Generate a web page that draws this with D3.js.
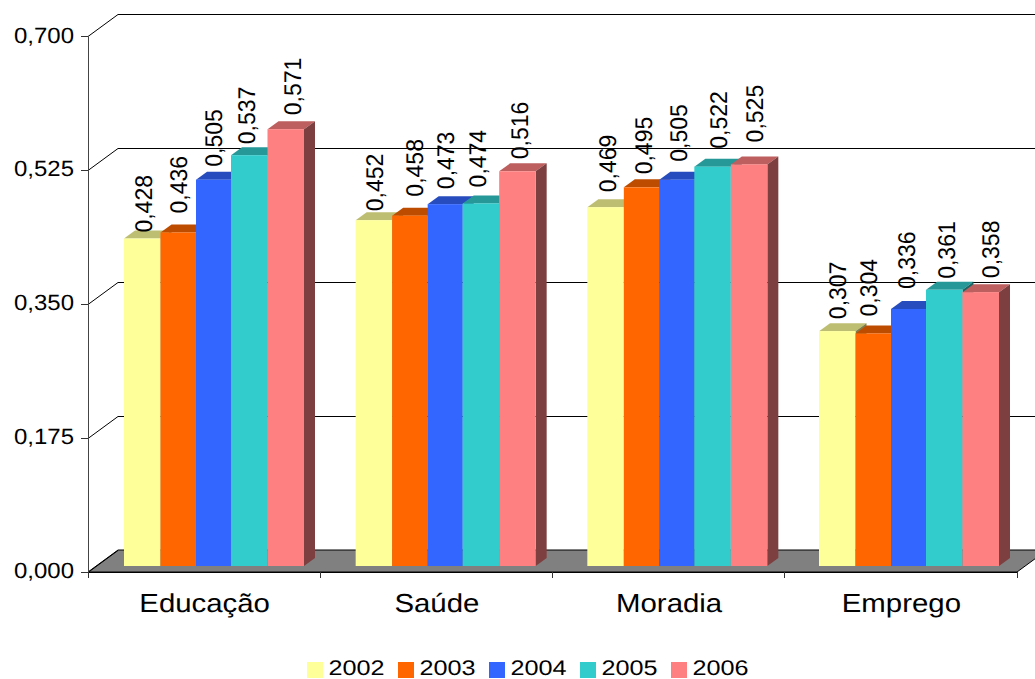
<!DOCTYPE html>
<html lang="pt">
<head>
<meta charset="utf-8">
<script src="https://cdn.jsdelivr.net/npm/d3@7"></script>
<style>
  html, body { margin: 0; padding: 0; background: #fff; overflow: hidden; }
  svg { display: block; font-family: "Liberation Sans", Arial, sans-serif; fill: #000; text-rendering: geometricPrecision; }
</style>
</head>
<body>
<svg id="chart" width="1035" height="679"></svg>
<script>
// Index values per theme and year
const categories = ["Educação", "Saúde", "Moradia", "Emprego"];
const years = ["2002", "2003", "2004", "2005", "2006"];
const values2002 = [0.428, 0.452, 0.469, 0.307];
const values2003 = [0.436, 0.458, 0.495, 0.304];
const values2004 = [0.505, 0.473, 0.505, 0.336];
const values2005 = [0.537, 0.474, 0.522, 0.361];
const values2006 = [0.571, 0.516, 0.525, 0.358];
const yTicks = [0, 0.175, 0.35, 0.525, 0.7];

const seriesValues = [values2002, values2003, values2004, values2005, values2006];
const frontColors = ["#FFFF99", "#FF6600", "#3366FF", "#33CCCC", "#FF8080"];

// Hand placement of the value labels, one row per theme, one column per year:
// sideways shift from the bar's centre and clearance above the bar's top edge
const labelShift = [
  [1.5, 0, -0.5, -3, 7],
  [0.5, 5, 0, -3.5, 2.5],
  [2, 1.5, 2, 6, 5.5],
  [0, -5, -2.5, 2, 9.5]
];
const labelClearance = [
  [7, 20, 14, 12, 15],
  [10, 20, 16, 17, 13],
  [16, 14, 19, 19, 23],
  [13, 18, 21, 12, 15]
];

const svg = d3.select("#chart");
const fmt = v => d3.format(".3f")(v).replace(".", ",");

// Oblique projection: the wall sits behind the axis plane, bars stand in between
const wall = { dx: 30, dy: -22 };
const barDepth = { dx: 11, dy: -8 };
const barLift = -6;

const y = d3.scaleLinear().domain([0, 0.7]).range([572, 36.5]);
const x = d3.scaleBand().domain(categories).range([88, 1017]);
const groupLeft = d3.scalePoint().domain(categories).range([124, 819]);
// Bar edges within a group, in pixels from the group's left side
const barEdge = d3.scaleOrdinal().domain([...years, "end"]).range([0, 36.5, 72, 107, 143.5, 180]);
const edgeAfter = yr => years[years.indexOf(yr) + 1] || "end";

const line = (x1, y1, x2, y2, color = "#000", w = 1) =>
  svg.append("line").attr("x1", x1).attr("y1", y1).attr("x2", x2).attr("y2", y2)
     .attr("stroke", color).attr("stroke-width", w);

// Floor
svg.append("polygon")
  .attr("points", [[88, y(0)], [88 + wall.dx, y(0) + wall.dy],
                   [1017 + wall.dx, y(0) + wall.dy], [1017, y(0)]].join(" "))
  .attr("fill", "#808080").attr("stroke", "#000");

// Wall gridlines and their returns to the value axis
yTicks.forEach(t => {
  const py = Math.floor(y(t)) + 0.5;
  line(88, py, 88 + wall.dx, py + wall.dy);
  if (t > 0) line(88 + wall.dx, py + wall.dy, 1035, py + wall.dy);
  line(81, py, 88, py, "#333");
});

// Value axis
line(88.5, y(0.7), 88.5, 578, "#444");

// Category axis with ticks between the groups
line(88, y(0) + 0.5, 1017, y(0) + 0.5);
[...categories.map(c => x(c)), 1017].forEach(px => {
  const sx = Math.floor(px) + 0.5;
  line(sx, y(0), sx, 578, "#333");
});

// Value axis labels
yTicks.forEach(t => {
  svg.append("text")
    .attr("transform", `translate(74,${y(t) + 6}) scale(1.09,1)`)
    .attr("text-anchor", "end").attr("font-size", 22).text(fmt(t));
});

// Category labels
categories.forEach(c => {
  svg.append("text")
    .attr("transform", `translate(${x(c) + x.bandwidth() / 2 + 0.5},612) scale(1.13,1)`)
    .attr("text-anchor", "middle").attr("font-size", 26).text(c);
});

// Bars, painted left to right so each front face covers its neighbour's side
const barHeight = v => y(0) - y(v);
categories.forEach((c, ci) => {
  years.forEach((yr, si) => {
    const v = seriesValues[si][ci];
    const col = d3.color(frontColors[si]);
    const left = groupLeft(c) + barEdge(yr);
    const right = groupLeft(c) + barEdge(edgeAfter(yr));
    const bottom = y(0) + barLift;
    const top = bottom - barHeight(v);
    const g = svg.append("g");
    g.append("polygon")
      .attr("points", [[left, top], [left + barDepth.dx, top + barDepth.dy],
                       [right + barDepth.dx, top + barDepth.dy], [right, top]].join(" "))
      .attr("fill", col.darker(0.83));
    g.append("polygon")
      .attr("points", [[right, top], [right + barDepth.dx, top + barDepth.dy],
                       [right + barDepth.dx, bottom + barDepth.dy], [right, bottom]].join(" "))
      .attr("fill", col.darker(2));
    g.append("rect")
      .attr("x", left).attr("y", top)
      .attr("width", right - left).attr("height", bottom - top)
      .attr("fill", col);
  });
});

// Value labels, turned to read upward above each bar
categories.forEach((c, ci) => {
  years.forEach((yr, si) => {
    const v = seriesValues[si][ci];
    const cx = groupLeft(c) + (barEdge(yr) + barEdge(edgeAfter(yr))) / 2 + labelShift[ci][si];
    const top = y(0) + barLift - barHeight(v);
    svg.append("text")
      .attr("transform", `translate(${cx + 8.5},${top - labelClearance[ci][si] + 1}) scale(1.05,1) rotate(-90)`)
      .attr("font-size", 23).text(fmt(v));
  });
});

// Legend
const legendX = d3.scalePoint().domain(years).range([307, 671]);
years.forEach((yr, i) => {
  svg.append("rect")
    .attr("x", legendX(yr)).attr("y", 662).attr("width", 16).attr("height", 16)
    .attr("fill", frontColors[i]);
  svg.append("text")
    .attr("transform", `translate(${legendX(yr) + 21.5},674.5) scale(1.2,1)`)
    .attr("font-size", 21).text(yr);
});
</script>
</body>
</html>
